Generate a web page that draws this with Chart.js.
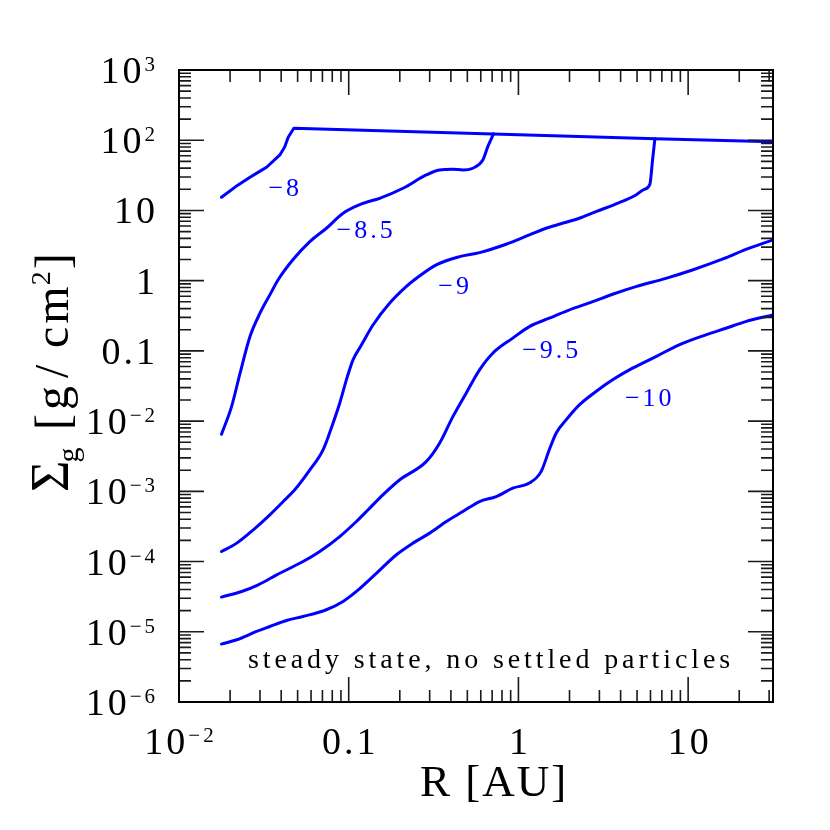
<!DOCTYPE html>
<html>
<head>
<meta charset="utf-8">
<script src="https://cdn.jsdelivr.net/npm/chart.js@4.4.1/dist/chart.umd.min.js"></script>
<style>
  html, body { margin: 0; padding: 0; background: #fff; }
  canvas { display: block; }
</style>
</head>
<body>
<canvas id="chart" width="830" height="830"></canvas>
<script>
// R [AU] and Sigma_g [g/cm^2], one pair of arrays per curve
const rM8 = [0.0178, 0.0223, 0.0262, 0.0297, 0.0328, 0.0393, 0.042, 0.044, 0.0475, 0.71, 6.4, 31.6];
const sM8 = [15.4, 23.1, 29.7, 35.7, 41.2, 61.7, 81, 110, 148, 123, 105, 95.4];

const rM85 = [0.0178, 0.0204, 0.0229, 0.0262, 0.030, 0.0343, 0.0384, 0.047, 0.059, 0.0739, 0.0926,
              0.119, 0.152, 0.209, 0.286, 0.343, 0.411, 0.47, 0.538, 0.617, 0.66, 0.713];
const sM85 = [0.0065, 0.0161, 0.0482, 0.16, 0.344, 0.627, 1.03, 2.0, 3.6, 5.58, 9.12,
              12.4, 14.9, 20.7, 32, 37.7, 38.6, 37.7, 39.9, 52.3, 81, 123];

const rM9 = [0.0178, 0.0219, 0.0274, 0.0343, 0.0411, 0.0481, 0.059, 0.0706, 0.0808, 0.0885, 0.0969, 0.106,
             0.119, 0.139, 0.174, 0.218, 0.244, 0.328, 0.45, 0.59, 0.846, 1.16, 1.455, 1.91, 2.285, 2.865,
             3.93, 4.92, 5.51, 5.95, 6.17, 6.37];
const sM9 = [1.39e-4, 1.83e-4, 2.83e-4, 4.63e-4, 7.16e-4, 1.05e-3, 2.02e-3, 3.9e-3, 9.35e-3, 0.018, 0.0387, 0.0745,
             0.122, 0.234, 0.477, 0.823, 1.03, 1.68, 2.2, 2.51, 3.3, 4.48, 5.58, 6.79, 7.74, 9.62,
             12.9, 16.6, 20, 23.6, 52.3, 105];

const rM95 = [0.0178, 0.0234, 0.0293, 0.0376, 0.0538, 0.0675, 0.0885, 0.111, 0.133, 0.159, 0.2, 0.286,
              0.343, 0.411, 0.492, 0.59, 0.706, 0.926, 1.16, 1.52, 1.95, 2.74, 3.59, 4.92, 7.39, 10.6,
              15.9, 22.9, 31.6];
const sM95 = [3.12e-5, 3.75e-5, 4.67e-5, 6.47e-5, 1.0e-4, 1.39e-4, 2.27e-4, 3.72e-4, 5.77e-4, 8.9e-4, 1.46e-3, 2.65e-3,
              4.85e-3, 0.0116, 0.025, 0.0537, 0.0927, 0.152, 0.222, 0.292, 0.375, 0.503, 0.641, 0.823, 1.08, 1.42,
              2.02, 2.9, 3.8];

const rM10 = [0.0178, 0.0219, 0.0286, 0.0343, 0.043, 0.0538, 0.0739, 0.0926, 0.111, 0.146, 0.191, 0.239,
              0.30, 0.376, 0.47, 0.59, 0.74, 0.926, 1.16, 1.36, 1.52, 1.667, 1.91, 2.285, 2.865, 3.59,
              4.7, 6.46, 8.85, 12.7, 16.7, 21.8, 31.6];
const sM10 = [6.68e-6, 7.69e-6, 1.01e-5, 1.19e-5, 1.45e-5, 1.65e-5, 2.06e-5, 2.7e-5, 3.75e-5, 6.85e-5, 1.25e-4, 1.83e-4,
              2.54e-4, 3.72e-4, 5.15e-4, 7.16e-4, 8.43e-4, 1.11e-3, 1.31e-3, 1.91e-3, 3.9e-3, 6.73e-3, 0.0104, 0.017, 0.0264, 0.0387,
              0.0567, 0.083, 0.122, 0.169, 0.21, 0.261, 0.325];

// curve labels (log accretion rate) and where they sit
const curveNames = ['\u22128', '\u22128.5', '\u22129', '\u22129.5', '\u221210'];
const nameR = [0.0414, 0.124, 0.415, 1.54, 5.82];
const nameS = [20.2, 5.1, 0.815, 0.1, 0.0207];

// axis ticks
const xTickValues = [0.01, 0.1, 1, 10];
const xTickLabels = [['10', '\u22122'], ['0.1', ''], ['1', ''], ['10', '']];
const yTickValues = [1e-6, 1e-5, 1e-4, 1e-3, 1e-2, 0.1, 1, 10, 100, 1000];
const yTickLabels = [['10', '\u22126'], ['10', '\u22125'], ['10', '\u22124'], ['10', '\u22123'], ['10', '\u22122'],
                     ['0.1', ''], ['1', ''], ['10', ''], ['10', '2'], ['10', '3']];

const noteText = 'steady state, no settled particles';

const SERIF = '"Liberation Serif", "DejaVu Serif", serif';
const BLUE = '#0000ff';

function pairs(rs, ss) {
  return rs.map((r, i) => ({ x: r, y: ss[i] }));
}

function spacing(ctx, px) {
  if ('letterSpacing' in ctx) ctx.letterSpacing = px + 'px';
}

function supLabel(ctx, base, exp, x, baseline, align) {
  spacing(ctx, 3);
  ctx.font = '38px ' + SERIF;
  const wb = ctx.measureText(base).width;
  ctx.font = '21px ' + SERIF;
  const we = exp ? ctx.measureText(exp).width : 0;
  const total = wb + we - 3;
  const x0 = align === 'right' ? x - total : x - total / 2;
  ctx.textAlign = 'left';
  ctx.textBaseline = 'alphabetic';
  ctx.font = '38px ' + SERIF;
  ctx.fillText(base, x0, baseline);
  if (exp) {
    ctx.font = '21px ' + SERIF;
    ctx.fillText(exp, x0 + wb, baseline - 12);
  }
  spacing(ctx, 0);
}

const framePlugin = {
  id: 'frame',
  afterDatasetsDraw(chart) {
    const { ctx, chartArea: a, scales: { x, y } } = chart;
    ctx.save();

    // minor + major ticks on all four sides, pointing inwards
    ctx.strokeStyle = '#1a1a1a';
    ctx.lineWidth = 1.6;
    ctx.beginPath();
    xTickValues.forEach(d => {
      for (let k = 1; k <= 9; k++) {
        const v = k * d;
        if (v > x.max * 1.001) break;
        const px = x.getPixelForValue(v);
        const len = k === 1 ? 25 : 12;
        ctx.moveTo(px, a.bottom); ctx.lineTo(px, a.bottom - len);
        ctx.moveTo(px, a.top); ctx.lineTo(px, a.top + len);
      }
    });
    yTickValues.forEach(d => {
      for (let k = 1; k <= 9; k++) {
        const v = k * d;
        if (v > y.max * 1.001) break;
        const py = y.getPixelForValue(v);
        const len = k === 1 ? 25 : 12;
        ctx.moveTo(a.left, py); ctx.lineTo(a.left + len, py);
        ctx.moveTo(a.right, py); ctx.lineTo(a.right - len, py);
      }
    });
    ctx.stroke();

    ctx.strokeStyle = '#000';
    ctx.lineWidth = 2;
    ctx.strokeRect(a.left, a.top, a.right - a.left, a.bottom - a.top);

    // tick labels
    ctx.fillStyle = '#000';
    xTickValues.forEach((v, i) => {
      supLabel(ctx, xTickLabels[i][0], xTickLabels[i][1], x.getPixelForValue(v), a.bottom + 52, 'center');
    });
    yTickValues.forEach((v, i) => {
      supLabel(ctx, yTickLabels[i][0], yTickLabels[i][1], a.left - 24, y.getPixelForValue(v) + 13, 'right');
    });

    // x title
    ctx.font = '45px ' + SERIF;
    ctx.textAlign = 'center';
    spacing(ctx, 2);
    ctx.fillText('R [AU]', 494, 796);
    spacing(ctx, 0);

    // y title, rotated; pieces placed one by one
    ctx.save();
    ctx.translate(68, 0);
    ctx.rotate(-Math.PI / 2);
    ctx.textAlign = 'left';
    ctx.font = '54px ' + SERIF;
    ctx.fillText('\u03a3', -492, 0);
    const sw = ctx.measureText('\u03a3').width;
    ctx.font = '30px ' + SERIF;
    ctx.fillText('g', -492 + sw - 2, 10);
    ctx.font = '48px ' + SERIF;
    ctx.fillText('[', -430, 0);
    ctx.fillText('g', -410, 0);
    ctx.fillText('/', -378, 0);
    spacing(ctx, 3);
    ctx.fillText('cm', -348, 0);
    const cw = ctx.measureText('cm').width;
    spacing(ctx, 0);
    ctx.font = '28px ' + SERIF;
    ctx.fillText('2', -348 + cw - 2, -18);
    ctx.font = '48px ' + SERIF;
    ctx.fillText(']', -348 + cw + 14, 0);
    ctx.restore();

    // curve labels
    ctx.fillStyle = BLUE;
    ctx.font = '26px ' + SERIF;
    ctx.textAlign = 'center';
    ctx.textBaseline = 'middle';
    spacing(ctx, 3);
    curveNames.forEach((t, i) => {
      ctx.fillText(t, x.getPixelForValue(nameR[i]) + 1.5, y.getPixelForValue(nameS[i]));
    });

    // note
    ctx.fillStyle = '#000';
    ctx.textAlign = 'left';
    ctx.textBaseline = 'alphabetic';
    ctx.font = '28px ' + SERIF;
    spacing(ctx, 0);
    const w = ctx.measureText(noteText).width;
    spacing(ctx, ((482 - w) / (noteText.length - 1)).toFixed(2));
    ctx.fillText(noteText, x.getPixelForValue(0.0255), y.getPixelForValue(3.07e-6));
    spacing(ctx, 0);
    ctx.restore();
  }
};

const mk = (rs, ss, smooth) => ({
  data: pairs(rs, ss),
  showLine: true,
  borderColor: BLUE,
  borderWidth: 3,
  pointRadius: 0,
  tension: 0,
  cubicInterpolationMode: smooth ? 'monotone' : 'default',
  borderJoinStyle: 'round',
  borderCapStyle: 'round'
});

new Chart(document.getElementById('chart'), {
  type: 'scatter',
  data: {
    datasets: [mk(rM8, sM8, false), mk(rM85, sM85, true), mk(rM9, sM9, true), mk(rM95, sM95, true), mk(rM10, sM10, true)]
  },
  options: {
    responsive: false,
    animation: false,
    layout: { padding: { left: 179, top: 70, right: 57, bottom: 128 } },
    scales: {
      x: { type: 'logarithmic', min: 0.01, max: Math.pow(10, 1.5), display: false },
      y: { type: 'logarithmic', min: 1e-6, max: 1e3, display: false }
    },
    plugins: { legend: { display: false }, tooltip: { enabled: false } }
  },
  plugins: [framePlugin]
});
</script>
</body>
</html>
